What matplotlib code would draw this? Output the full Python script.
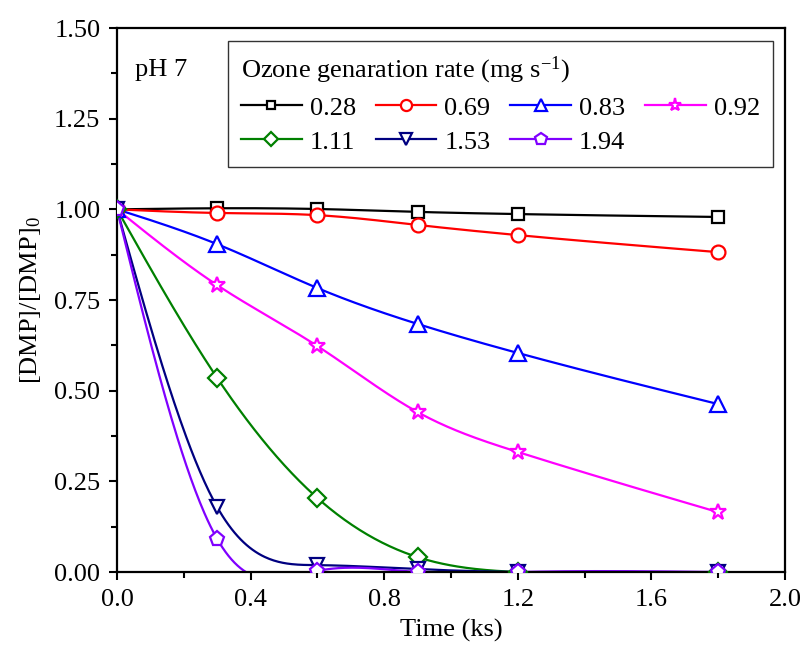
import numpy as np
import matplotlib
matplotlib.use("Agg")
from matplotlib import pyplot as plt

plt.rcParams['font.family'] = ['Liberation Serif', 'DejaVu Serif']
plt.rcParams['mathtext.fontset'] = 'custom'
plt.rcParams['mathtext.rm'] = 'Liberation Serif'
plt.rcParams['mathtext.it'] = 'Liberation Serif:italic'
plt.rcParams['axes.unicode_minus'] = True

# sampling times (ks)
times = [0.0, 0.3, 0.6, 0.9, 1.2, 1.8]

# [DMP]/[DMP]0 for each ozone generation rate (mg/s)
r028 = [1.000, 1.003, 1.001, 0.993, 0.987, 0.979]
r069 = [1.000, 0.990, 0.984, 0.957, 0.929, 0.882]
r083 = [1.000, 0.904, 0.783, 0.684, 0.604, 0.463]
r092 = [1.000, 0.791, 0.623, 0.441, 0.331, 0.165]
r111 = [1.000, 0.535, 0.204, 0.041, 0.000, 0.000]
r153 = [1.000, 0.179, 0.019, 0.008, 0.000, 0.000]
r194 = [1.000, 0.091, 0.003, 0.000, 0.000, 0.000]

labels = ["0.28", "0.69", "0.83", "0.92", "1.11", "1.53", "1.94"]
series = [r028, r069, r083, r092, r111, r153, r194]
colors = ["black", "red", "blue", "#FF00FF", "#008000", "#000080", "#8000FF"]
markers = ["s", "o", "^", "*", "D", "v", "p"]
msizes = [8, 10, 11, 12, 9, 10, 11]

FS = 19


def spline(x, y, xs):
    # natural cubic spline, like the smoothed lines in Origin
    x = np.asarray(x, float)
    y = np.asarray(y, float)
    n = len(x)
    h = np.diff(x)
    A = np.zeros((n, n))
    b = np.zeros(n)
    A[0, 0] = 1
    A[-1, -1] = 1
    for i in range(1, n - 1):
        A[i, i - 1] = h[i - 1]
        A[i, i] = 2 * (h[i - 1] + h[i])
        A[i, i + 1] = h[i]
        b[i] = 3 * ((y[i + 1] - y[i]) / h[i] - (y[i] - y[i - 1]) / h[i - 1])
    c = np.linalg.solve(A, b)
    out = np.zeros_like(xs)
    for k, xv in enumerate(xs):
        i = min(np.searchsorted(x, xv, side="right") - 1, n - 2)
        i = max(i, 0)
        d = xv - x[i]
        bb = (y[i + 1] - y[i]) / h[i] - h[i] * (2 * c[i] + c[i + 1]) / 3
        dd = (c[i + 1] - c[i]) / (3 * h[i])
        out[k] = y[i] + bb * d + c[i] * d ** 2 + dd * d ** 3
    return out


fig = plt.figure(figsize=(8.03, 6.47), dpi=100)
ax = fig.add_axes([0.1457, 0.1159, 0.8319, 0.8408])

xs = np.linspace(times[0], times[-1], 400)
for k in range(len(series)):
    ys = spline(times, series[k], xs)
    ax.plot(xs, ys, color=colors[k], lw=1.6, zorder=2)
    ax.plot(times, series[k], linestyle="none", marker=markers[k], ms=msizes[k],
            mfc="white", mec=colors[k], mew=1.6, zorder=3)

handles = []
for k in range(len(series)):
    h, = ax.plot([], [], color=colors[k], lw=1.6, marker=markers[k], ms=msizes[k] * 0.8,
                 mfc="white", mec=colors[k], mew=1.6)
    handles.append(h)

# legend fills column by column, reorder so it reads row by row
order = [0, 4, 1, 5, 2, 6, 3]
leg = ax.legend([handles[i] for i in order], [labels[i] for i in order], ncol=4,
                title="Ozone genaration rate (mg s$^{-1}$)",
                loc="upper left", bbox_to_anchor=(0.166, 0.976), fontsize=FS,
                title_fontsize=FS, alignment="left", frameon=True, fancybox=False,
                handlelength=2.3, handletextpad=0.3, columnspacing=0.75,
                labelspacing=0.4, borderpad=0.5, borderaxespad=0)
leg.get_frame().set_edgecolor("black")
leg.get_frame().set_linewidth(1.0)

ax.text(0.027, 0.923, "pH 7", transform=ax.transAxes, fontsize=FS, va="center")

ax.set_xlim(0, 2.0)
ax.set_ylim(0, 1.5)
ax.set_xticks([0.0, 0.4, 0.8, 1.2, 1.6, 2.0])
ax.set_xticks([0.2, 0.6, 1.0, 1.4, 1.8], minor=True)
ax.set_yticks([0.0, 0.25, 0.5, 0.75, 1.0, 1.25, 1.5])
ax.set_yticks([0.125, 0.375, 0.625, 0.875, 1.125, 1.375], minor=True)
ax.set_xticklabels(["0.0", "0.4", "0.8", "1.2", "1.6", "2.0"])
ax.set_yticklabels(["0.00", "0.25", "0.50", "0.75", "1.00", "1.25", "1.50"])
ax.tick_params(which="major", direction="out", length=6, width=1.5, labelsize=FS, pad=6)
ax.tick_params(which="minor", direction="out", length=4, width=1.5)
for s in ax.spines.values():
    s.set_linewidth(1.6)

ax.set_xlabel("Time (ks)", fontsize=FS, labelpad=6)
ax.set_ylabel("[DMP]/[DMP]$_0$", fontsize=FS, labelpad=8)

fig.savefig("out.png", dpi=100)
